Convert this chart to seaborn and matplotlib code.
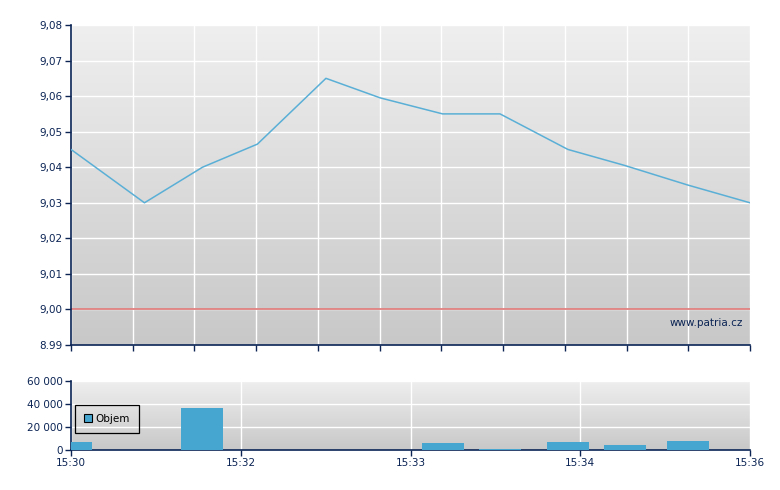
import numpy as np
import pandas as pd
import matplotlib
matplotlib.use("Agg")
import matplotlib.pyplot as plt
from matplotlib.patches import Patch
from matplotlib.colors import LinearSegmentedColormap
import seaborn as sns

# ---- data ----
# x positions on a 0..11 scale spanning 15:30 .. 15:36
pos = [0.0, 1.19, 2.13, 3.02, 4.13, 5.01, 6.02, 6.95, 8.05, 8.97, 9.99, 11.0]
price = [9.045, 9.030, 9.040, 9.0465, 9.065, 9.0595, 9.055, 9.055, 9.045, 9.0405, 9.035, 9.030]
volume = [7000, 0, 36500, 0, 0, 0, 6000, 1000, 7000, 4000, 8200, 0]
prev_close = 9.00

price_ticks = [8.99, 9.00, 9.01, 9.02, 9.03, 9.04, 9.05, 9.06, 9.07, 9.08]
price_labels = ["8.99", "9,00", "9,01", "9,02", "9,03", "9,04", "9,05", "9,06", "9,07", "9,08"]
vol_ticks = [0, 20000, 40000, 60000]
vol_labels = ["0", "20 000", "40 000", "60 000"]
time_pos = [0, 2.75, 5.5, 8.25, 11]
time_labels = ["15:30", "15:32", "15:33", "15:34", "15:36"]
legend_label = "Objem"
watermark = "www.patria.cz"

NAVY = "#0b2454"
LINE = "#5aafd6"
BAR = "#46a6d0"

sns.set_theme(style="white")
plt.rcParams["font.family"] = ["DejaVu Sans"]
plt.rcParams["font.size"] = 7

W, H = 780, 490
fig = plt.figure(figsize=(7.8, 4.9), dpi=100)
ax1 = fig.add_axes([71 / W, (H - 345) / H, 679 / W, 320 / H])
ax2 = fig.add_axes([71 / W, (H - 450) / H, 679 / W, 69 / H])

grad = np.linspace(0, 1, 256).reshape(-1, 1)
cmap = LinearSegmentedColormap.from_list("g", ["#efefef", "#c8c8c8"])

for ax in (ax1, ax2):
    ax.imshow(grad, extent=[0, 1, 0, 1], transform=ax.transAxes, cmap=cmap,
              aspect="auto", zorder=0, interpolation="bicubic")
    ax.set_axisbelow(True)
    for s in ("top", "right"):
        ax.spines[s].set_visible(False)
    for s in ("left", "bottom"):
        ax.spines[s].set_color(NAVY)
        ax.spines[s].set_linewidth(1.2)
    ax.tick_params(axis="both", colors=NAVY, labelcolor=NAVY, length=4, width=1,
                   direction="out", pad=2, labelsize=7.5)
    ax.tick_params(axis="both", which="both", left=True, bottom=True)

df = pd.DataFrame({"pos": pos, "price": price, "volume": volume})

# ---- top price chart ----
sns.lineplot(data=df, x="pos", y="price", ax=ax1, color=LINE, linewidth=1.1, zorder=3)
ax1.axhline(prev_close, color="#e08080", linewidth=1.3, zorder=2)
ax1.set_xlim(0, 11)
ax1.set_ylim(8.99, 9.08)
ax1.set_yticks(price_ticks)
ax1.set_yticklabels(price_labels)
ax1.set_xticks(np.arange(0, 12))
ax1.set_xticklabels([])
ax1.grid(True, color="white", linewidth=1.0)
ax1.set_xlabel("")
ax1.set_ylabel("")
ax1.text(0.99, 0.07, watermark, transform=ax1.transAxes, ha="right", va="center",
         color=NAVY, fontsize=7.5, zorder=4)

# ---- bottom volume chart ----
bdf = df[df["volume"] > 0]
ax2.bar(bdf["pos"], bdf["volume"], width=0.68, color=BAR, edgecolor="none",
        linewidth=0, zorder=3)
ax2.set_xlim(0, 11)
ax2.set_ylim(0, 60000)
ax2.set_yticks(vol_ticks)
ax2.set_yticklabels(vol_labels)
ax2.set_xticks(time_pos)
ax2.set_xticklabels(time_labels)
ax2.grid(True, color="white", linewidth=1.0)
ax2.set_xlabel("")
ax2.set_ylabel("")

leg = ax2.legend(handles=[Patch(facecolor=BAR, edgecolor="black", linewidth=0.8, label=legend_label)],
                 loc="center left", bbox_to_anchor=(4 / 679, 0.45), borderaxespad=0,
                 frameon=True, fancybox=False, edgecolor="black", facecolor="none",
                 framealpha=1, handlelength=0.8, handleheight=0.8, handletextpad=0.35,
                 borderpad=0.85, fontsize=7.5, labelcolor="black")
leg.get_frame().set_linewidth(0.9)
leg.set_zorder(5)

fig.savefig("out.png", dpi=100)
